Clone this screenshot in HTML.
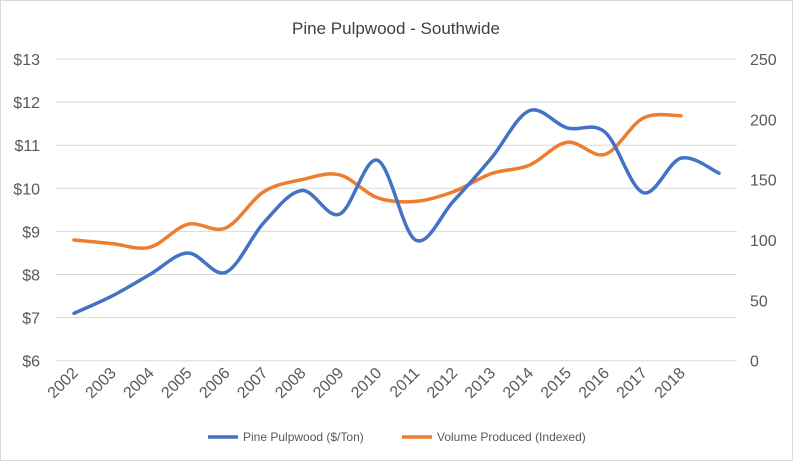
<!DOCTYPE html>
<html><head><meta charset="utf-8"><style>
body{margin:0;background:#fff;font-family:"Liberation Sans",sans-serif}
svg{display:block}
</style></head><body>
<svg id="chart" width="793" height="461" xmlns="http://www.w3.org/2000/svg">
<rect x="0.5" y="0.5" width="792" height="460" fill="#fff" stroke="#d9d9d9"/>
<text x="396" y="34" text-anchor="middle" font-size="17" fill="#404040">Pine Pulpwood - Southwide</text>
<g id="grid"></g><g id="ylab"></g><g id="y2lab"></g><g id="xlab"></g><g id="series"></g>
<g>
<line x1="208" y1="437" x2="238" y2="437" stroke="#4472c4" stroke-width="3.5"/>
<text x="243" y="441" font-size="12" fill="#595959">Pine Pulpwood ($/Ton)</text>
<line x1="402" y1="437" x2="432" y2="437" stroke="#ed7d31" stroke-width="3.5"/>
<text x="437" y="441" font-size="12" fill="#595959">Volume Produced (Indexed)</text>
</g>
</svg>
<script>
const years=["2002","2003","2004","2005","2006","2007","2008","2009","2010","2011","2012","2013","2014","2015","2016","2017","2018"];
const price=[7.1,7.5,8.0,8.5,8.05,9.2,9.95,9.4,10.65,8.8,9.7,10.7,11.8,11.4,11.3,9.9,10.7,10.35];
const volume=[100,97,94,113,110,140,150,154,135,132,140,155,162,181,171,201,203];
const leftTicks=[6,7,8,9,10,11,12,13];
const rightTicks=[0,50,100,150,200,250];
const NS="http://www.w3.org/2000/svg";
const X0=74,DX=37.94,L=56,R=737,TOP=59,BOT=360.7;
const xs=i=>X0+i*DX;
const yL=v=>BOT-(v-6)/7*(BOT-TOP);
const yR=v=>BOT-v/250*(BOT-TOP);
function mk(tag,attrs,parent,txt){const e=document.createElementNS(NS,tag);for(const k in attrs)e.setAttribute(k,attrs[k]);if(txt!==undefined)e.textContent=txt;document.getElementById(parent).appendChild(e);return e;}
leftTicks.forEach(t=>{
 const g=mk('line',{x1:L,x2:R,y1:yL(t),y2:yL(t),stroke:'#d9d9d9','stroke-width':1},'grid');
 
 
 const l=mk('text',{x:40,y:yL(t)+6,'text-anchor':'end','font-size':16,fill:'#595959'},'ylab','$'+t);
 
 
});
rightTicks.forEach(t=>{
 const l=mk('text',{x:750,y:yR(t)+6,'font-size':16,fill:'#595959'},'y2lab',String(t));
 
 
});
years.forEach((y,i)=>{
 const x=xs(i)+5,yy=374;
 const l=mk('text',{x:x,y:yy,'text-anchor':'end','font-size':16,fill:'#595959',transform:`rotate(-45 ${x} ${yy})`},'xlab',y);
 
 
});
function smooth(pts){let d=`M${pts[0][0]},${pts[0][1]}`;for(let i=0;i<pts.length-1;i++){const p0=pts[Math.max(0,i-1)],p1=pts[i],p2=pts[i+1],p3=pts[Math.min(pts.length-1,i+2)];const t=6;d+=` C${p1[0]+(p2[0]-p0[0])/t},${p1[1]+(p2[1]-p0[1])/t} ${p2[0]-(p3[0]-p1[0])/t},${p2[1]-(p3[1]-p1[1])/t} ${p2[0]},${p2[1]}`;}return d;}
const vp=mk('path',{d:smooth(volume.map((v,i)=>[xs(i),yR(v)])),fill:'none',stroke:'#ed7d31','stroke-width':3.5,'stroke-linecap':'round'},'series');


const pp=mk('path',{d:smooth(price.map((v,i)=>[xs(i),yL(v)])),fill:'none',stroke:'#4472c4','stroke-width':3.5,'stroke-linecap':'round'},'series');


</script>
</body></html>
